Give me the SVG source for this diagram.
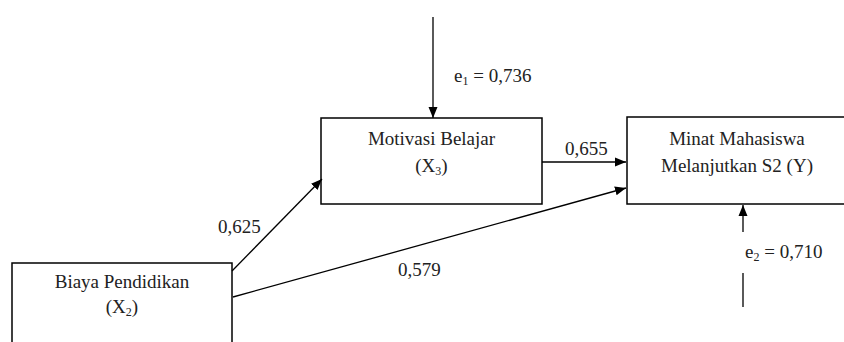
<svg xmlns="http://www.w3.org/2000/svg" width="844" height="342" viewBox="0 0 844 342">
<style>
.box{fill:#fff;stroke:#000;stroke-width:1.5}
text{font-family:'Liberation Serif','Times New Roman','DejaVu Serif',serif;font-size:19px;fill:#222}
.c{text-anchor:middle}
.ln{stroke:#000;stroke-width:1.3;fill:none}
.sub{font-size:12px}
</style>
<defs>
<marker id="ah" markerUnits="userSpaceOnUse" markerWidth="12" markerHeight="10" refX="11" refY="5" orient="auto">
<path d="M0,0.5 L11,5 L0,9.5 Z" fill="#000"/>
</marker>
</defs>
<g id="motivasi">
<rect class="box" x="321" y="118" width="221" height="86"/>
<text class="c" x="431.5" y="145">Motivasi Belajar</text>
<text class="c" x="431.5" y="172">(X<tspan class="sub" dy="3">3</tspan><tspan dy="-3">)</tspan></text>
</g>
<g id="minat">
<rect class="box" x="627" y="117" width="230" height="87"/>
<text class="c" x="737" y="145">Minat Mahasiswa</text>
<text class="c" x="737" y="172">Melanjutkan S2 (Y)</text>
</g>
<g id="biaya">
<rect class="box" x="12" y="263" width="220" height="95"/>
<text class="c" x="122" y="288">Biaya Pendidikan</text>
<text class="c" x="122" y="313">(X<tspan class="sub" dy="3">2</tspan><tspan dy="-3">)</tspan></text>
</g>
<g id="connectors">
<line class="ln" x1="433" y1="17" x2="433" y2="118" marker-end="url(#ah)"/>
<line class="ln" x1="232" y1="271" x2="322" y2="179" marker-end="url(#ah)"/>
<line class="ln" x1="233" y1="297" x2="626" y2="188" marker-end="url(#ah)"/>
<line class="ln" x1="542" y1="162" x2="626" y2="162" marker-end="url(#ah)"/>
<line class="ln" x1="743" y1="232" x2="743" y2="205" marker-end="url(#ah)"/>
<line class="ln" x1="743" y1="273" x2="743" y2="307"/>
</g>
<g id="labels">
<text x="454" y="82">e<tspan class="sub" dy="3">1</tspan><tspan dy="-3"> = 0,736</tspan></text>
<text x="745" y="258">e<tspan class="sub" dy="3">2</tspan><tspan dy="-3"> = 0,710</tspan></text>
<text x="218" y="233">0,625</text>
<text x="398" y="276">0,579</text>
<text x="565" y="155">0,655</text>
</g>
</svg>
